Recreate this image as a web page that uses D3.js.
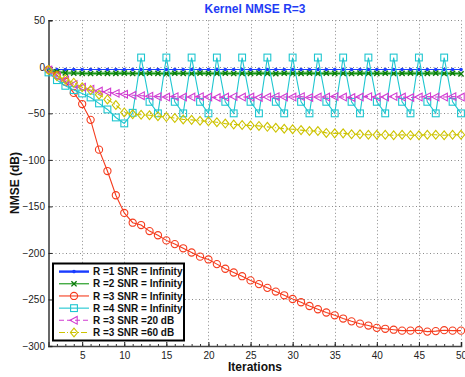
<!DOCTYPE html>
<html>
<head>
<meta charset="utf-8">
<script src="https://cdn.jsdelivr.net/npm/d3@7"></script>
<style>
  body { margin: 0; background: #fff; }
  svg { display: block; font-family: "Liberation Sans", Arial, Helvetica, sans-serif; }
</style>
</head>
<body>
<main></main>
<script>
// iterations 1..50
const iterations = d3.range(1, 51);
const xTicks = [5, 10, 15, 20, 25, 30, 35, 40, 45, 50];
const yTicks = [50, 0, -50, -100, -150, -200, -250, -300];

const r1Inf = [-3.2, -2.8, -2.8, -2.8, -2.8, -2.8, -2.8, -2.8, -2.8, -2.8,
    -2.8, -2.8, -2.8, -2.8, -2.8, -2.8, -2.8, -2.8, -2.8, -2.8,
    -2.8, -2.8, -2.8, -2.8, -2.8, -2.8, -2.8, -2.8, -2.8, -2.8,
    -2.8, -2.8, -2.8, -2.8, -2.8, -2.8, -2.8, -2.8, -2.8, -2.8,
    -2.8, -2.8, -2.8, -2.8, -2.8, -2.8, -2.8, -2.8, -2.8, -2.8];
const r2Inf = [-3.5, -5.3, -6.5, -6.8, -7.0, -7.2, -6.9, -7.1, -7.0, -6.8,
    -7.2, -7.0, -6.9, -7.1, -7.3, -6.9, -7.0, -7.2, -6.8, -7.1,
    -7.0, -6.9, -7.2, -7.0, -7.1, -6.8, -7.0, -7.3, -6.9, -7.1,
    -7.0, -6.8, -7.2, -6.9, -7.1, -7.0, -7.2, -6.8, -7.0, -7.1,
    -6.9, -7.2, -7.0, -6.8, -7.1, -7.0, -6.7, -7.2, -6.9, -7.5];
const r3Inf = [-3, -9, -16, -28, -40, -57, -89, -112, -138, -157,
    -167.5, -170, -176.5, -181, -186.5, -190.5, -195, -199.5, -204, -207,
    -212, -217, -221, -225, -229.5, -233.5, -237.5, -241.5, -245.5, -249.5,
    -253, -257, -260.5, -264, -267, -270.5, -273.5, -276, -278, -280.5,
    -281.5, -282.5, -283.5, -283.5, -283, -284.5, -284, -283, -283.5, -283.5];
const r4Inf = [-6, -14.3, -20.4, -25, -28.6, -32.9, -39.3, -45.8, -54.4, -60.8,
    -49.4, 10, -37.6, -50, 10, -37.6, -50, 10, -37.6, -50,
    10, -37.6, -50, 10, -37.6, -50, 10, -37.6, -50, 10,
    -37.6, -50, 10, -37.6, -50, 10, -37.6, -50, 10, -37.6,
    -50, 10, -37.6, -50, 10, -37.6, -50, 10, -37.6, -50];
const r3Snr20 = [-3.5, -10, -14, -19, -22, -24, -26, -27, -28.5, -29.5,
    -30.5, -31, -31.5, -32, -32.5, -32, -32.5, -32.5, -32, -32.5,
    -33, -32.5, -32, -32.5, -32.5, -33, -32.5, -32, -32.5, -32.5,
    -32, -33, -32.5, -32.5, -32, -32.5, -33, -32.5, -32, -32.5,
    -32.5, -32, -32.5, -33, -32.5, -32, -32.5, -32.5, -32, -32.5];
const r3Snr60 = [-3.5, -10, -13.5, -17, -22, -25, -30, -35, -41, -49,
    -51, -51.5, -52, -53, -54, -55, -56.5, -57, -58, -58.5,
    -59.5, -61, -62, -62.5, -63, -63.5, -64.5, -65.5, -66.5, -67,
    -68, -69, -69, -71, -71.5, -71.5, -72.5, -72.5, -73, -73,
    -73, -73.5, -73, -73.5, -73.5, -73, -73, -73.5, -73, -73];

const seriesNames = ['R =1 SNR = Infinity', 'R =2 SNR = Infinity', 'R =3 SNR = Infinity',
    'R =4 SNR = Infinity', 'R =3 SNR =20 dB', 'R =3 SNR =60 dB'];

const series = [
    { name: seriesNames[0], values: r1Inf, color: '#1a3cff', marker: 'dot', dash: null },
    { name: seriesNames[1], values: r2Inf, color: '#129512', marker: 'x', dash: null },
    { name: seriesNames[2], values: r3Inf, color: '#f53c1e', marker: 'circle', dash: null },
    { name: seriesNames[3], values: r4Inf, color: '#1ec6d0', marker: 'square', dash: null },
    { name: seriesNames[4], values: r3Snr20, color: '#d13cd1', marker: 'triangle', dash: '5,3' },
    { name: seriesNames[5], values: r3Snr60, color: '#cdc300', marker: 'diamond', dash: '6,2,1,2' }
];

const w = 465;
const h = 377;
const svg = d3.select('main').append('svg').attr('width', w).attr('height', h);

const xScale = d3.scaleLinear().domain([1, 50]).range([48.5, 461]);
const yScale = d3.scaleLinear().domain([-300, 50]).range([346, 20.3]);

// grid
const grid = svg.append('g').attr('stroke', '#8a8a8a').attr('stroke-width', 1).attr('stroke-dasharray', '1,2.5');
grid.selectAll('.vg').data(xTicks).enter().append('line')
    .attr('x1', d => Math.round(xScale(d)) + 0.5).attr('x2', d => Math.round(xScale(d)) + 0.5)
    .attr('y1', yScale(50)).attr('y2', yScale(-300));
grid.selectAll('.hg').data(yTicks).enter().append('line')
    .attr('y1', d => Math.round(yScale(d)) + 0.5).attr('y2', d => Math.round(yScale(d)) + 0.5)
    .attr('x1', xScale(1)).attr('x2', xScale(50));

// axes
const xAxis = d3.axisBottom(xScale).tickValues(xTicks).tickSize(-4).tickPadding(5.5).tickFormat(d3.format('d'));
const xMinor = d3.axisBottom(xScale).tickValues(iterations).tickSize(-2).tickFormat('');
const yAxis = d3.axisLeft(yScale).tickValues(yTicks).tickSize(-4).tickPadding(3.5)
    .tickFormat(d => d < 0 ? '\u2212' + Math.abs(d) : d);

svg.append('g').attr('transform', `translate(0, ${yScale(-300)})`).call(xMinor)
    .call(g => g.select('.domain').remove())
    .call(g => g.selectAll('line').attr('stroke', '#333'));
const gx = svg.append('g').attr('transform', `translate(0, ${yScale(-300)})`).call(xAxis);
const gy = svg.append('g').attr('transform', `translate(${xScale(1)}, 0)`).call(yAxis);
[gx, gy].forEach(g => {
    g.select('.domain').attr('stroke', '#444').attr('stroke-width', 1.6);
    g.selectAll('.tick line').attr('stroke', '#222');
    g.selectAll('.tick text').attr('fill', '#222').style('font-size', '10px')
        .style('font-family', '"Liberation Sans", Arial, sans-serif');
});

// series
const symbols = {
    circle: (g, c) => g.append('circle').attr('r', 3.6),
    square: (g, c) => g.append('rect').attr('x', -3.4).attr('y', -3.4).attr('width', 6.8).attr('height', 6.8),
    triangle: (g, c) => g.append('path').attr('d', 'M-4,0L3.2,-3.8L3.2,3.8Z'),
    diamond: (g, c) => g.append('path').attr('d', 'M0,-4.4L3.6,0L0,4.4L-3.6,0Z'),
    x: (g, c) => g.append('path').attr('d', 'M-2.6,-2.6L2.6,2.6M-2.6,2.6L2.6,-2.6').attr('stroke-width', 1.4),
    dot: (g, c) => g.append('circle').attr('r', 1.2).attr('fill', c)
};

const line = d3.line().x((d, i) => xScale(iterations[i])).y(d => yScale(d));

series.forEach(s => {
    const g = svg.append('g');
    if (s.marker === 'x') {
        g.append('path').datum(s.values).attr('d', line)
            .attr('fill', 'none').attr('stroke', '#7cc87c').attr('stroke-width', 3.2);
    }
    g.append('path').datum(s.values).attr('d', line)
        .attr('fill', 'none').attr('stroke', s.color).attr('stroke-width', 1.1)
        .attr('stroke-dasharray', s.dash);
    const m = g.selectAll('.m').data(s.values).enter().append('g')
        .attr('transform', (d, i) => `translate(${xScale(iterations[i])}, ${yScale(d)})`)
        .attr('fill', 'none').attr('stroke', s.marker === 'x' ? '#0a7a0a' : s.color).attr('stroke-width', 1.1);
    m.each(function () { symbols[s.marker](d3.select(this), s.color); });
});

// legend
const lg = svg.append('g');
lg.append('rect').attr('x', 53).attr('y', 263.5).attr('width', 131).attr('height', 77)
    .attr('fill', '#fff').attr('stroke', '#000').attr('stroke-width', 2);
const rowY = d3.scaleLinear().domain([0, 5]).range([271.6, 332.5]);
series.forEach((s, i) => {
    const y = rowY(i);
    lg.append('line').attr('x1', 59).attr('x2', 89).attr('y1', y).attr('y2', y)
        .attr('stroke', s.color).attr('stroke-width', s.marker === 'dot' ? 2.4 : 1.1)
        .attr('stroke-dasharray', s.dash);
    const mk = lg.append('g').attr('transform', `translate(74, ${y})`)
        .attr('fill', 'none').attr('stroke', s.marker === 'x' ? '#0a7a0a' : s.color).attr('stroke-width', 1.1);
    symbols[s.marker](mk, s.color);
    lg.append('text').attr('x', 93).attr('y', y + 3.6).text(s.name)
        .style('font-size', '10px').style('font-weight', 'bold').attr('fill', '#111');
});

// titles
svg.append('text').attr('x', 255).attr('y', 12.5).attr('text-anchor', 'middle')
    .style('font-size', '12px').style('font-weight', 'bold').attr('fill', '#1f3cf5')
    .text('Kernel NMSE R=3');
svg.append('text').attr('x', 255).attr('y', 370.5).attr('text-anchor', 'middle')
    .style('font-size', '12px').style('font-weight', 'bold').attr('fill', '#111')
    .text('Iterations');
svg.append('text').attr('transform', 'translate(18.5, 183) rotate(-90)').attr('text-anchor', 'middle')
    .style('font-size', '12px').style('font-weight', 'bold').attr('fill', '#111')
    .text('NMSE (dB)');
</script>
</body>
</html>
